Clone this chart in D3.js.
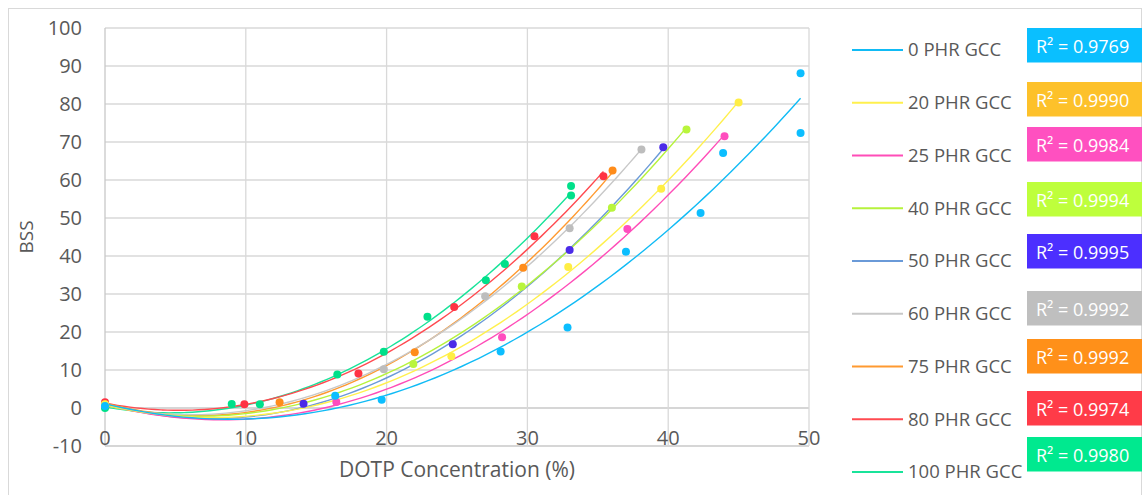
<!DOCTYPE html>
<html>
<head>
<meta charset="utf-8">
<script src="https://cdn.jsdelivr.net/npm/d3@7"></script>
<style>
  body { margin: 0; background: #fff; }
  svg { font-family: "Open Sans", sans-serif; }
</style>
</head>
<body>
<svg id="chart"></svg>
<script>
// series names and R² labels
const seriesNames = ["0 PHR GCC", "20 PHR GCC", "25 PHR GCC", "40 PHR GCC", "50 PHR GCC",
    "60 PHR GCC", "75 PHR GCC", "80 PHR GCC", "100 PHR GCC"];
const r2Values = ["0.9769", "0.9990", "0.9984", "0.9994", "0.9995", "0.9992", "0.9992", "0.9974", "0.9980"];

// DOTP concentration (%) per series
const dotp = [
    [0, 16.35, 19.65, 28.1, 32.85, 37.0, 42.3, 43.9, 49.4, 49.4],
    [0, 24.6, 32.9, 39.5, 45.0],
    [0, 16.43, 28.2, 37.1, 44.0],
    [0, 21.9, 29.6, 36.0, 41.3],
    [0, 14.1, 24.7, 33.0, 39.65],
    [0, 19.8, 27.0, 33.0, 38.1],
    [0, 12.4, 22.0, 29.7, 36.05],
    [0, 9.9, 18.0, 24.8, 30.5, 35.4],
    [0, 9.0, 11.0, 16.5, 19.8, 22.9, 27.05, 28.4, 33.1, 33.1]
];
// BSS per series
const bss = [
    [0.5, 3.2, 2.2, 14.9, 21.2, 41.1, 51.3, 67.1, 72.4, 88.1],
    [1.0, 13.6, 37.1, 57.7, 80.4],
    [0.8, 1.6, 18.6, 47.1, 71.5],
    [0.8, 11.6, 32.0, 52.7, 73.3],
    [0.8, 1.1, 16.8, 41.6, 68.6],
    [0.8, 10.2, 29.4, 47.3, 68.0],
    [1.0, 1.5, 14.7, 36.9, 62.5],
    [1.5, 1.0, 9.1, 26.6, 45.2, 61.0],
    [0, 1.05, 1.0, 8.8, 14.8, 24.0, 33.6, 37.9, 55.9, 58.4]
];

const xTicks = [0, 10, 20, 30, 40, 50];
const yTicks = [-10, 0, 10, 20, 30, 40, 50, 60, 70, 80, 90, 100];

// colours
const pointColors = ["#0cbeff", "#ffee45", "#ff4dbe", "#b9f53c", "#4b2be8", "#bdbdbd", "#ff8c1a", "#ff3344", "#00e08a"];
const lineColors  = ["#11bbf5", "#fff04d", "#ff4db8", "#b6f23c", "#6a9ad8", "#c8c8c8", "#ff9a30", "#ff4a50", "#19e39a"];
const boxColors   = ["#0abfff", "#fdc12a", "#ff50c0", "#beff3c", "#4c2fff", "#bfbfbf", "#ff9019", "#ff3b48", "#00e98f"];
const r2BoxTop = [28, 82, 127, 182, 234, 291, 339, 391, 437];

const W = 1146, H = 495;
const svg = d3.select("#chart").attr("width", W).attr("height", H);

svg.append("rect")
    .attr("x", 8.5).attr("y", 8.5).attr("width", 1133).attr("height", 510)
    .attr("fill", "#fff").attr("stroke", "#d9d9d9");

const x = d3.scaleLinear().domain([0, 50]).range([105, 809]);
const y = d3.scaleLinear().domain([-10, 100]).range([446, 28]);

// gridlines
svg.append("g").selectAll("line").data(yTicks).enter().append("line")
    .attr("x1", x(0)).attr("x2", x(50))
    .attr("y1", d => y(d)).attr("y2", d => y(d))
    .attr("stroke", d => (d === 0 || d === -10) ? "#c8c8c8" : "#d9d9d9")
    .attr("stroke-width", 1.3);
svg.append("g").selectAll("line").data(xTicks).enter().append("line")
    .attr("y1", y(-10)).attr("y2", y(100))
    .attr("x1", d => x(d)).attr("x2", d => x(d))
    .attr("stroke", d => d === 0 ? "#c8c8c8" : "#d9d9d9")
    .attr("stroke-width", 1.3);

// tick labels
svg.append("g").selectAll("text").data(yTicks).enter().append("text")
    .attr("x", 82).attr("y", d => y(d))
    .attr("dy", "0.35em")
    .attr("text-anchor", "end")
    .style("font-size", "20px").style("fill", "#595959")
    .text(d => d);
svg.append("g").selectAll("text").data(xTicks).enter().append("text")
    .attr("x", d => x(d)).attr("y", 438)
    .attr("dy", "0.35em")
    .attr("text-anchor", "middle")
    .style("font-size", "20px").style("fill", "#595959")
    .text(d => d);

// axis titles
svg.append("text")
    .attr("transform", "translate(33,237) rotate(-90)")
    .attr("text-anchor", "middle")
    .style("font-size", "19px").style("fill", "#595959")
    .text("BSS");
svg.append("text")
    .attr("x", 457).attr("y", 477)
    .attr("text-anchor", "middle")
    .style("font-size", "21px").style("fill", "#595959")
    .text("DOTP Concentration (%)");

// least squares quadratic fit (Excel polynomial trendline, order 2)
function quadFit(xs, ys) {
    const s = [0, 0, 0, 0, 0], t = [0, 0, 0];
    xs.forEach((xi, i) => {
        let p = 1;
        for (let k = 0; k < 5; k++) { s[k] += p; if (k < 3) t[k] += p * ys[i]; p *= xi; }
    });
    const A = [[s[0], s[1], s[2], t[0]], [s[1], s[2], s[3], t[1]], [s[2], s[3], s[4], t[2]]];
    for (let c = 0; c < 3; c++) {
        for (let r = c + 1; r < 3; r++) {
            const f = A[r][c] / A[c][c];
            for (let k = c; k < 4; k++) A[r][k] -= f * A[c][k];
        }
    }
    const b = [0, 0, 0];
    for (let r = 2; r >= 0; r--) {
        let v = A[r][3];
        for (let k = r + 1; k < 3; k++) v -= A[r][k] * b[k];
        b[r] = v / A[r][r];
    }
    return xv => b[0] + b[1] * xv + b[2] * xv * xv;
}

const line = d3.line().x(d => x(d[0])).y(d => y(d[1])).curve(d3.curveMonotoneX);

// draw series in reverse so 0 PHR sits on top like the original
const order = d3.range(seriesNames.length).reverse();
order.forEach(i => {
    const f = quadFit(dotp[i], bss[i]);
    const xmax = d3.max(dotp[i]);
    const pts = d3.range(0, 81).map(k => { const xv = xmax * k / 80; return [xv, f(xv)]; });
    svg.append("path")
        .attr("d", line(pts))
        .attr("fill", "none")
        .attr("stroke", lineColors[i])
        .attr("stroke-width", 1.4);
});
order.forEach(i => {
    svg.append("g").selectAll("circle")
        .data(dotp[i].map((d, k) => [d, bss[i][k]]))
        .enter().append("circle")
        .attr("cx", d => x(d[0])).attr("cy", d => y(d[1]))
        .attr("r", 4)
        .attr("fill", pointColors[i]);
});

// legend
const legend = svg.append("g");
seriesNames.forEach((name, i) => {
    const ly = 50 + i * 52.75;
    legend.append("line")
        .attr("x1", 852).attr("x2", 903).attr("y1", ly).attr("y2", ly)
        .attr("stroke", lineColors[i]).attr("stroke-width", 2);
    legend.append("text")
        .attr("x", 908).attr("y", ly).attr("dy", "0.35em")
        .style("font-size", "18.5px").style("fill", "#595959")
        .text(name);
});

// R² labels
const r2 = svg.append("g");
r2Values.forEach((v, i) => {
    r2.append("rect")
        .attr("x", 1027).attr("y", r2BoxTop[i])
        .attr("width", 115).attr("height", 34.5)
        .attr("fill", boxColors[i]);
    r2.append("text")
        .attr("x", 1036).attr("y", r2BoxTop[i] + 25)
        .style("font-size", "18px").style("fill", "#fff")
        .text("R\u00b2 = " + v);
});
</script>
</body>
</html>
